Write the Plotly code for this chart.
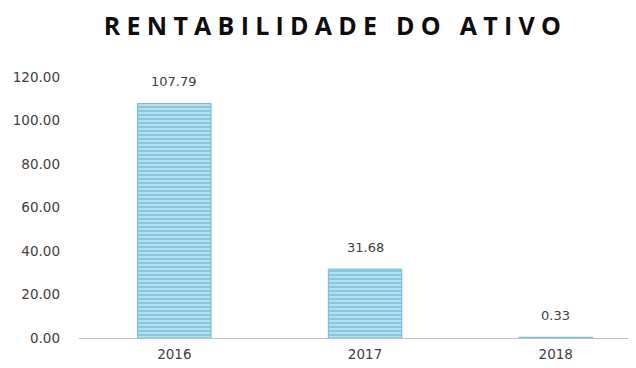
import plotly.graph_objects as go

years = ["2016", "2017", "2018"]
values = [107.79, 31.68, 0.33]
labels = ["107.79", "31.68", "0.33"]
yticks = [0, 20, 40, 60, 80, 100, 120]
yticklabels = ["0.00", "20.00", "40.00", "60.00", "80.00", "100.00", "120.00"]
title = "RENTABILIDADE DO ATIVO"

fig = go.Figure()
fig.add_trace(go.Bar(
    x=years, y=values,
    width=0.385,
    marker=dict(color="#a9dbe8", line=dict(color="#6cbad3", width=1),
                pattern=dict(shape="-", fgcolor="#4fa9c6", bgcolor="#b3e0ec", size=4, solidity=0.45)),
))
for i, (v, t) in enumerate(zip(values, labels)):
    fig.add_annotation(x=i, y=v, xref="x", yref="y", text=t, showarrow=False,
                       yanchor="middle", yshift=22,
                       font=dict(family="DejaVu Sans", size=13, color="#404040"))

sp = "\u2005"
title_txt = (sp + " " + sp).join(sp.join(list(w)) for w in title.split(" "))
fig.update_layout(
    width=636, height=368,
    margin=dict(l=71, r=0, t=69, b=38),
    paper_bgcolor="white", plot_bgcolor="white",
    showlegend=False,
    title=dict(text=title_txt,
               x=0.51, xanchor="center", y=0.95, yanchor="middle",
               font=dict(family="Open Sans", size=25, color="#0d0d0d", weight="bold")),
    font=dict(family="DejaVu Sans", size=14, color="#404040"),
)
fig.update_xaxes(type="category", range=[-0.5, 2.463], showline=True, linecolor="#bfbfbf", linewidth=1,
                 ticks="", ticklabelstandoff=4, tickfont=dict(family="DejaVu Sans", size=13.5, color="#404040"))
fig.update_yaxes(range=[0, 120], tickvals=yticks, ticktext=yticklabels, showgrid=False,
                 zeroline=False, showline=False, ticks="", ticklabelstandoff=18,
                 tickfont=dict(family="DejaVu Sans", size=13.5, color="#404040"))
fig.write_html("out.html")
